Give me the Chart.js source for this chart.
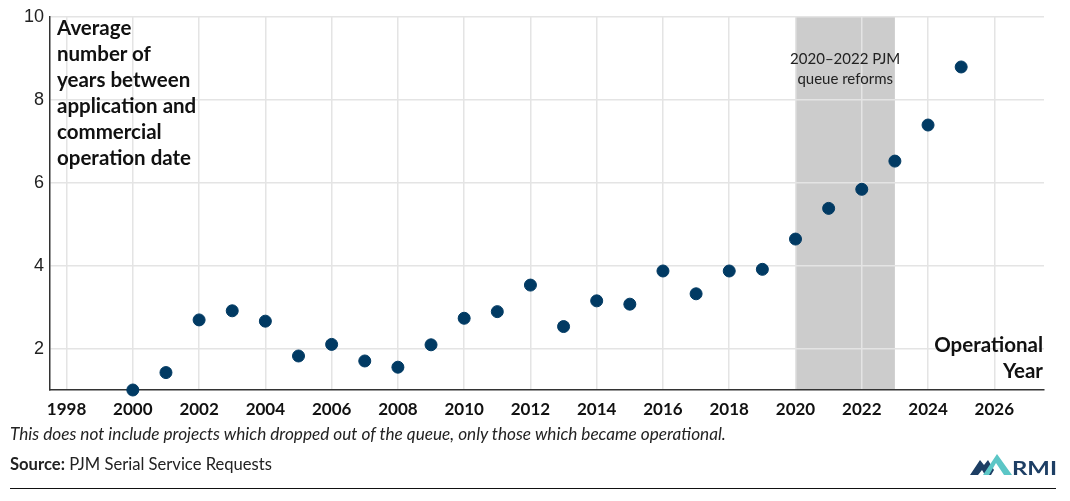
<!DOCTYPE html>
<html>
<head>
<meta charset="utf-8">
<script src="https://cdn.jsdelivr.net/npm/chart.js@4.4.0/dist/chart.umd.min.js"></script>
<style>
  html, body { margin:0; padding:0; background:#fff; }
  #wrap { position:relative; width:1070px; height:501px; overflow:hidden; font-family: Lato, "Noto Sans", sans-serif; color:#111; }
  canvas { position:absolute; left:0; top:0; }
  .title { position:absolute; left:57px; top:14px; font-weight:700; font-size:20.5px; line-height:26px; color:#111; }
  .xtitle { position:absolute; right:27px; top:331px; font-weight:700; font-size:20.5px; line-height:26px; text-align:right; color:#111; }
  .note { position:absolute; left:10px; top:423px; font-style:italic; font-size:17.2px; color:#222; white-space:nowrap; }
  .source { position:absolute; left:10px; top:454px; font-size:16.6px; color:#222; white-space:nowrap; }
  .source b { font-weight:700; }
  .rule { position:absolute; left:10px; top:488px; width:1046px; height:0; border-top:1.5px solid #111; }
  .logo { position:absolute; left:965px; top:448px; }
</style>
</head>
<body>
<div id="wrap">
  <canvas id="c" width="1070" height="501"></canvas>
  <div class="title">Average<br>number of<br>years between<br>application and<br>commercial<br>operation date</div>
  <div class="xtitle">Operational<br>Year</div>
  <div class="note">This does not include projects which dropped out of the queue, only those which became operational.</div>
  <div class="source"><b>Source:</b> PJM Serial Service Requests</div>
  <div class="rule"></div>
  <svg class="logo" width="95" height="32" viewBox="0 0 95 32">
    <polygon points="5,27 15,12 19,17 23,12 29,22 26,27 20,27 17,22 13,27" fill="#1d3e64"/>
    <polygon points="18,27 32,6 47,27 39,27 31,15 24,27" fill="#5cc6c6"/>
    <text x="47" y="27" textLength="45" lengthAdjust="spacingAndGlyphs" font-family="Lato, sans-serif" font-weight="700" font-size="19.5" fill="#1d3e64">RMI</text>
  </svg>
</div>
<script>
const years  = [2000,2001,2002,2003,2004,2005,2006,2007,2008,2009,2010,2011,2012,2013,2014,2015,2016,2017,2018,2019,2020,2021,2022,2023,2024,2025];
const avgYears = [1.00,1.42,2.69,2.91,2.66,1.82,2.10,1.70,1.55,2.09,2.73,2.89,3.53,2.53,3.15,3.07,3.87,3.32,3.87,3.91,4.64,5.38,5.84,6.52,7.39,8.79];
const xTickLabels = [1998,2000,2002,2004,2006,2008,2010,2012,2014,2016,2018,2020,2022,2024,2026];
const yTickLabels = [2,4,6,8,10];
const reformBand = [2020, 2023];
const reformLabel = ["2020\u20132022 PJM", "queue reforms"];

const bandPlugin = {
  id: 'band',
  beforeDraw(chart) {
    const {ctx, chartArea, scales} = chart;
    const x0 = scales.x.getPixelForValue(reformBand[0]);
    const x1 = scales.x.getPixelForValue(reformBand[1]);
    ctx.save();
    ctx.fillStyle = '#cccccc';
    ctx.fillRect(x0, chartArea.top, x1 - x0, chartArea.bottom - chartArea.top);
    ctx.restore();
  },
  afterDatasetsDraw(chart) {
    const {ctx, scales} = chart;
    const x0 = scales.x.getPixelForValue(reformBand[0]);
    const x1 = scales.x.getPixelForValue(reformBand[1]);
    ctx.save();
    ctx.fillStyle = '#222';
    ctx.font = '15px Lato, "Noto Sans", sans-serif';
    ctx.textAlign = 'center';
    ctx.textBaseline = 'middle';
    ctx.fillText(reformLabel[0], (x0 + x1) / 2, 59);
    ctx.fillText(reformLabel[1], (x0 + x1) / 2, 79);
    ctx.restore();
  }
};

new Chart(document.getElementById('c'), {
  type: 'scatter',
  data: {
    datasets: [{
      data: years.map((y, i) => ({x: y, y: avgYears[i]})),
      backgroundColor: '#013a63',
      borderColor: '#013a63',
      pointRadius: 6,
      pointHoverRadius: 6,
      clip: false
    }]
  },
  options: {
    responsive: false,
    animation: false,
    devicePixelRatio: 1,
    layout: { padding: { top: 16, right: 26, bottom: 71, left: 0 } },
    plugins: { legend: { display: false }, tooltip: { enabled: false } },
    scales: {
      x: {
        type: 'linear',
        min: 1997.5,
        max: 2027.5,
        afterBuildTicks: s => { s.ticks = xTickLabels.map(v => ({value: v})); },
        afterFit: s => { s.height = 40; },
        grid: { color: '#e4e4e4', lineWidth: 1.5, drawTicks: false },
        border: { color: '#333', width: 1.5 },
        ticks: { padding: 9, color: '#111', font: { family: 'Lato', weight: 'bold', size: 17 }, callback: v => String(v) }
      },
      y: {
        min: 1,
        max: 10,
        afterBuildTicks: s => { s.ticks = yTickLabels.map(v => ({value: v})); },
        afterFit: s => { s.width = 50; },
        grid: { color: '#e4e4e4', lineWidth: 1.5, drawTicks: false },
        border: { color: '#333', width: 1.5 },
        ticks: { padding: 6, color: '#222', font: { family: 'Liberation Sans', size: 18 } }
      }
    }
  },
  plugins: [bandPlugin]
});
</script>
</body>
</html>
